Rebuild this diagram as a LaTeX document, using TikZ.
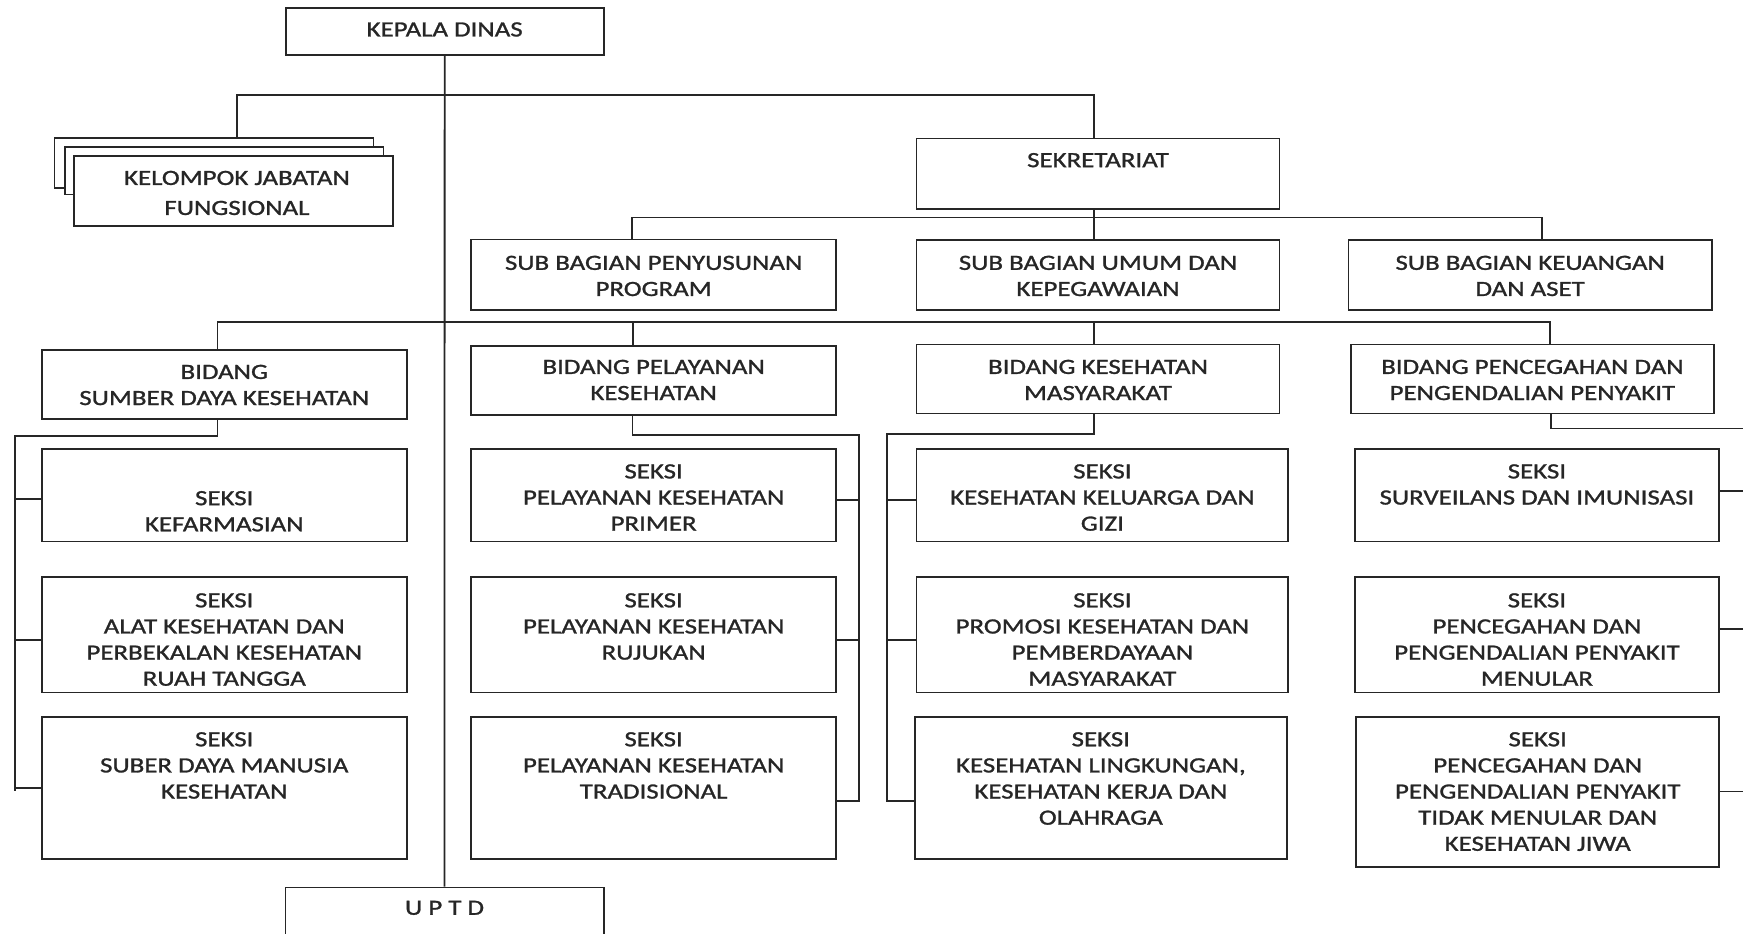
\documentclass[tikz,border=0pt]{standalone}
\usepackage{fontspec}
\setmainfont{Carlito}[FakeStretch=1.24,FakeBold=1.2]
\usetikzlibrary{fit,calc}
\definecolor{ink}{HTML}{262626}
\tikzset{
  box/.style={draw=ink, line width=1.6pt, fill=white, inner sep=0pt, rectangle},
  txt/.style={anchor=north, align=center, inner sep=0pt, text=ink,
    font=\fontsize{19.5}{23.5}\selectfont},
  conn/.style={draw=ink, line width=1.6pt},
}
\begin{document}
\begin{tikzpicture}[x=1pt,y=-1pt]
\useasboundingbox[fill=white] (0,0) rectangle (1568,840);

% ---------- boxes ----------
\node[box, fit={(257,7) (543,49.5)}] (kd) {};
\node[box, fit={(49,124) (336,169)}] (kjf3) {};
\node[box, fit={(58.7,132) (345,175)}] (kjf2) {};
\node[box, fit={(66.7,140) (353.6,203)}] (kjf) {};
\node[box, fit={(824.5,124.5) (1151,188)}] (sek) {};
\node[box, fit={(424,215.5) (752,279)}] (sbp) {};
\node[box, fit={(824.5,216) (1151,279)}] (sbu) {};
\node[box, fit={(1213,216) (1540,279)}] (sbk) {};
\node[box, fit={(37.7,315) (365.8,376.9)}] (bsdk) {};
\node[box, fit={(424,311) (752,373)}] (bpk) {};
\node[box, fit={(824.5,310) (1151,372)}] (bkm) {};
\node[box, fit={(1215,310) (1542,372)}] (bpp) {};
\node[box, fit={(37.7,403.8) (365.8,487.2)}] (s11) {};
\node[box, fit={(37.7,519.4) (365.8,623)}] (s12) {};
\node[box, fit={(37.7,644.7) (365.8,772.5)}] (s13) {};
\node[box, fit={(424,403.8) (752,487.2)}] (s21) {};
\node[box, fit={(424,519.4) (752,623)}] (s22) {};
\node[box, fit={(424,644.7) (752,772.5)}] (s23) {};
\node[box, fit={(824.4,403.8) (1159,487.2)}] (s31) {};
\node[box, fit={(824.4,519.4) (1159,623)}] (s32) {};
\node[box, fit={(823,644.7) (1157.6,772.5)}] (s33) {};
\node[box, fit={(1218.6,403.8) (1546.6,487.2)}] (s41) {};
\node[box, fit={(1218.6,519.4) (1546.6,623)}] (s42) {};
\node[box, fit={(1220,644.7) (1546.6,780)}] (s43) {};
\node[box, fit={(256.8,798.3) (543,852)}] (uptd) {};

% ---------- texts ----------
\node[txt] (t-kd) at (kd.north |- 0,19.9) {KEPALA DINAS};
\node[txt] (t-kjf) at ($(kjf.north |- 0,153.5)+(3,0)$) {KELOMPOK JABATAN\\[3.5pt]FUNGSIONAL};
\node[txt] (t-sek) at (sek.north |- 0,137.5) {SEKRETARIAT};
\node[txt] (t-sbp) at (sbp.north |- 0,229.9) {SUB BAGIAN PENYUSUNAN\\PROGRAM};
\node[txt] (t-sbu) at (sbu.north |- 0,229.9) {SUB BAGIAN UMUM DAN\\KEPEGAWAIAN};
\node[txt] (t-sbk) at (sbk.north |- 0,229.9) {SUB BAGIAN KEUANGAN\\DAN ASET};
\node[txt] (t-bsdk) at (bsdk.north |- 0,328) {BIDANG\\SUMBER DAYA KESEHATAN};
\node[txt] (t-bpk) at (bpk.north |- 0,323.5) {BIDANG PELAYANAN\\KESEHATAN};
\node[txt] (t-bkm) at (bkm.north |- 0,323.5) {BIDANG KESEHATAN\\MASYARAKAT};
\node[txt] (t-bpp) at (bpp.north |- 0,323.5) {BIDANG PENCEGAHAN DAN\\PENGENDALIAN PENYAKIT};
\node[txt] (t-s11) at (s11.north |- 0,441.6) {SEKSI\\KEFARMASIAN};
\node[txt] (t-s12) at (s12.north |- 0,533.5) {SEKSI\\ALAT KESEHATAN DAN\\PERBEKALAN KESEHATAN\\RUAH TANGGA};
\node[txt] (t-s13) at (s13.north |- 0,658.5) {SEKSI\\SUBER DAYA MANUSIA\\KESEHATAN};
\node[txt] (t-s21) at (s21.north |- 0,417.5) {SEKSI\\PELAYANAN KESEHATAN\\PRIMER};
\node[txt] (t-s22) at (s22.north |- 0,533.5) {SEKSI\\PELAYANAN KESEHATAN\\RUJUKAN};
\node[txt] (t-s23) at (s23.north |- 0,658.5) {SEKSI\\PELAYANAN KESEHATAN\\TRADISIONAL};
\node[txt] (t-s31) at (s31.north |- 0,417.5) {SEKSI\\KESEHATAN KELUARGA DAN\\GIZI};
\node[txt] (t-s32) at (s32.north |- 0,533.5) {SEKSI\\PROMOSI KESEHATAN DAN\\PEMBERDAYAAN\\MASYARAKAT};
\node[txt] (t-s33) at (s33.north |- 0,658.5) {SEKSI\\KESEHATAN LINGKUNGAN,\\KESEHATAN KERJA DAN\\OLAHRAGA};
\node[txt] (t-s41) at (s41.north |- 0,417.5) {SEKSI\\SURVEILANS DAN IMUNISASI};
\node[txt] (t-s42) at (s42.north |- 0,533.5) {SEKSI\\PENCEGAHAN DAN\\PENGENDALIAN PENYAKIT\\MENULAR};
\node[txt] (t-s43) at (s43.north |- 0,658.5) {SEKSI\\PENCEGAHAN DAN\\PENGENDALIAN PENYAKIT\\TIDAK MENULAR DAN\\KESEHATAN JIWA};
\node[txt] (t-uptd) at (uptd.north |- 0,810.2) {U P T D};

% ---------- free ends at the right edge ----------
\coordinate (e0) at (1570,385.4);
\coordinate (e1) at (1570,442);
\coordinate (e2) at (1570,566);
\coordinate (e3) at (1570,712);

% ---------- connectors ----------
\draw[conn] (kd.south) -- (uptd.north);
\draw[conn] ($(kjf.north |- kjf3.north)+(3,0)$) -- ++(0,-37.5) -| ($(sek.north)+(-3.75,0)$);
\draw[conn] ($(sek.south)+(-3.75,0)$) -- ($(sbu.north)+(-3.75,0)$);
\draw[conn] ($(sbp.north)+(-19.4,0)$) |- ($(sbk.north)+(10.5,-19.5)$) -- ($(sbk.north)+(10.5,0)$);
\draw[conn] ($(bsdk.north)+(-6,0)$) |- ($(bpp.north)+(16,-19.6)$) -- ($(bpp.north)+(16,0)$);
\draw[conn] ($(bpk.north)+(-18.5,0)$) -- ++(0,-20.6);
\draw[conn] ($(bkm.north)+(-3.75,0)$) -- ++(0,-19.6);

% column 1
\draw[conn] ($(bsdk.south)+(-6,0)$) -- ++(0,14.7) -| ($(s13.west)+(-23.7,3.4)$);
\draw[conn] ($(s11.west)+(0,3.7)$) -- ++(-23.7,0);
\draw[conn] ($(s12.west)+(0,4.8)$) -- ++(-23.7,0);
\draw[conn] ($(s13.west)+(0,0.2)$) -- ++(-23.7,0);
% column 2
\draw[conn] ($(bpk.south)+(-19,0)$) -- ++(0,17.7) -| ($(s23.east)+(20,12.2)$) -- ($(s23.east)+(0,12.2)$);
\draw[conn] ($(s21.east)+(0,4)$) -- ++(20,0);
\draw[conn] ($(s22.east)+(0,4.8)$) -- ++(20,0);
% column 3
\draw[conn] ($(bkm.south)+(-3.75,0)$) -- ++(0,17.7) -| ($(s33.west)+(-24,12.2)$) -- ($(s33.west)+(0,12.2)$);
\draw[conn] ($(s31.west)+(0,4)$) -- ++(-25.4,0);
\draw[conn] ($(s32.west)+(0,4.8)$) -- ++(-25.4,0);
% column 4
\draw[conn] ($(bpp.south)+(17,0)$) |- (e0);
\draw[conn] (s41.east |- e1) -- (e1);
\draw[conn] (s42.east |- e2) -- (e2);
\draw[conn] (s43.east |- e3) -- (e3);
\end{tikzpicture}
\end{document}
